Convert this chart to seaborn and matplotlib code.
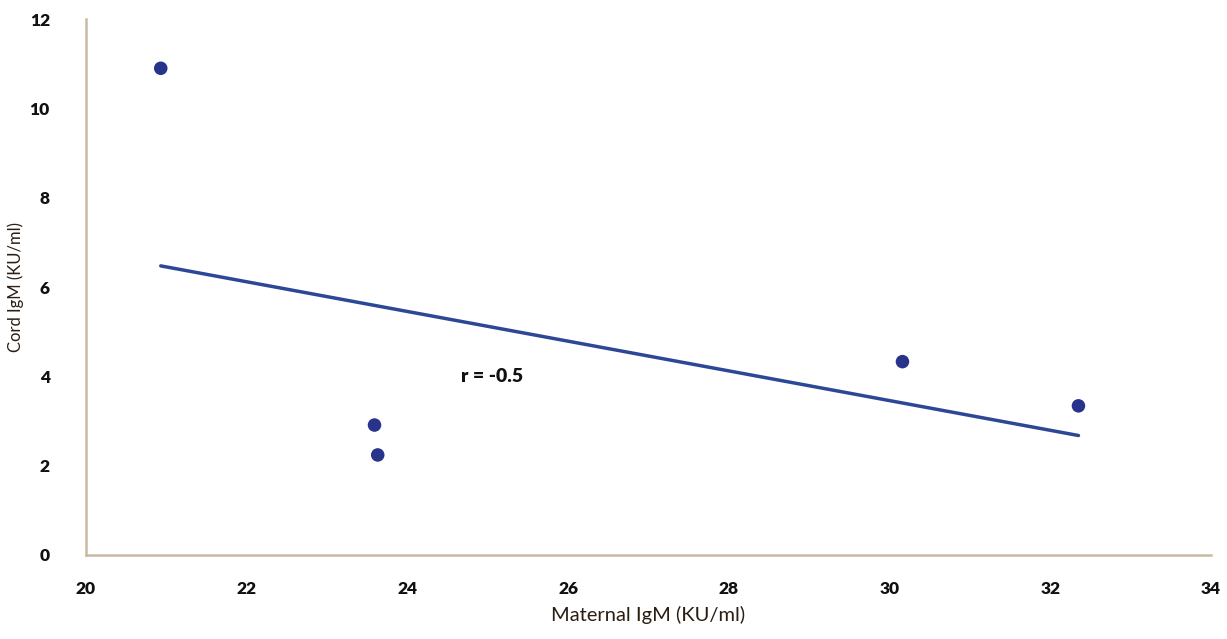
import pandas as pd
import seaborn as sns
import matplotlib.pyplot as plt

# Data
maternal_igm = [20.93, 23.59, 23.63, 30.16, 32.35]
cord_igm = [10.9, 2.91, 2.24, 4.33, 3.34]
x_ticks = [20, 22, 24, 26, 28, 30, 32, 34]
y_ticks = [0, 2, 4, 6, 8, 10, 12]

df = pd.DataFrame({'maternal': maternal_igm, 'cord': cord_igm})

sns.set_style('white')
plt.rcParams['font.family'] = ['Lato', 'DejaVu Sans']

fig = plt.figure(figsize=(12.27, 6.39), dpi=100)
ax = fig.add_axes([0.0701, 0.1315, 0.9169, 0.8385])

sns.regplot(data=df, x='maternal', y='cord', ci=None, ax=ax,
            scatter_kws={'s': 95, 'color': '#28348c', 'edgecolor': 'none', 'alpha': 1},
            line_kws={'color': '#2c4796', 'linewidth': 2.5})

# correlation annotation
ax.text(24.67, 3.99, 'r = -0.5', fontsize=14, fontweight='heavy',
        va='center', ha='left', color='#111111')

ax.set_xlim(20, 34)
ax.set_ylim(0, 12)
ax.set_xticks(x_ticks)
ax.set_yticks(y_ticks)
ax.tick_params(axis='both', length=0, labelsize=12.5, labelcolor='#111111')
ax.tick_params(axis='x', pad=19)
ax.tick_params(axis='y', pad=26)
for lbl in ax.get_xticklabels() + ax.get_yticklabels():
    lbl.set_fontweight('heavy')

ax.set_xlabel('Maternal IgM (KU/ml)', fontsize=14.5, color='#2a1e12', labelpad=6)
ax.set_ylabel('Cord IgM (KU/ml)', fontsize=12, color='#2a1e12', labelpad=4)

sns.despine(ax=ax)
for side in ['left', 'bottom']:
    ax.spines[side].set_color('#c9b9a3')
    ax.spines[side].set_linewidth(1.8)

plt.savefig('out.png', dpi=100)
